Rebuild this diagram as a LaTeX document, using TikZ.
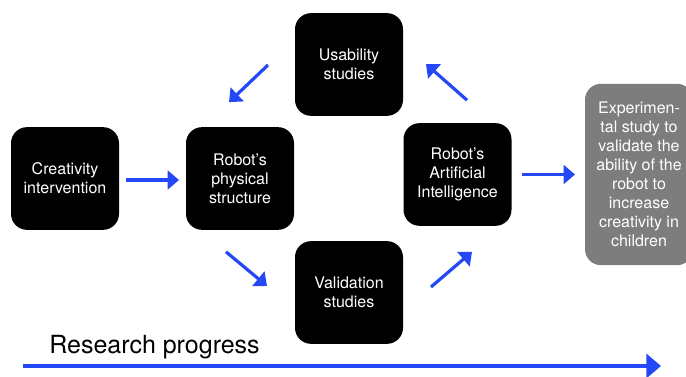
\documentclass[tikz,border=0pt]{standalone}
\usepackage{fontspec}
\setmainfont{TeX Gyre Heros}
\usetikzlibrary{arrows.meta, calc}

\definecolor{flowblue}{RGB}{36,72,245}
\definecolor{stepgrey}{RGB}{125,125,125}

\begin{document}
\begin{tikzpicture}[x=0.75pt, y=-0.75pt]
\tikzset{ >=latex, inner sep=0pt, outer sep=0pt,
  box/.style={fill=black, text=white, rounded corners=12pt, align=center,
    minimum width=81pt, minimum height=77pt,
    font=\fontsize{12}{14.25}\selectfont},
  greybox/.style={box, fill=stepgrey, minimum height=136pt},
  flow/.style={flowblue, line width=2.4pt, -{Triangle[length=8.5pt, width=14pt]}},
  progress/.style={flowblue, line width=3pt, -{Triangle[length=11pt, width=18pt]}},
}

\useasboundingbox (0,0) rectangle (686,377);
\clip (0,0) rectangle (686,377);

%\draw [lightgray, dashed](0,0) grid[step=50] (686,377);

\node [box] (crea) at (65,178.5) {Creativity\\intervention};
\node [box] (phys) at (240,178.5) {Robot's\\physical\\structure};
\node [box] (usab) at (349,64.5) {Usability\\studies};
\node [box] (vali) at (349,292.5) {Validation\\studies};
\node [box] (ai) at (457.5,174.5) {Robot's\\Artificial\\Intelligence};
\node [greybox] (expe) at (639,174.5) {Experimen-\\tal study to\\validate the\\ability of the\\robot to\\increase\\creativity in\\children};

\draw [flow] ($(crea.east)+(7,1.5)$) -- ($(phys.west)+(-7,1.5)$);
\draw [flow] ($(usab.west)+(-27,0.5)$) -- ($(phys.north)+(-11,-25)$);
\draw [flow] ($(phys.south)+(-14,22)$) -- ($(vali.west)+(-28,-6.5)$);
\draw [flow] ($(vali.east)+(28,-5.5)$) -- ($(ai.south)+(14.5,26)$);
\draw [flow] ($(ai.north)+(9.5,-23)$) -- ($(usab.east)+(23,-0.5)$);
\draw [flow] ($(ai.east)+(10,0)$) -- ($(expe.west)+(-10,0)$);

\coordinate (rs) at (23,366);
\coordinate (re) at (661,366);
\node [font=\fontsize{18.75}{22}\selectfont] (rlab) at (154.5,347) {Research progress};
\draw [progress] (rs) -- (re);

\end{tikzpicture}
\end{document}
